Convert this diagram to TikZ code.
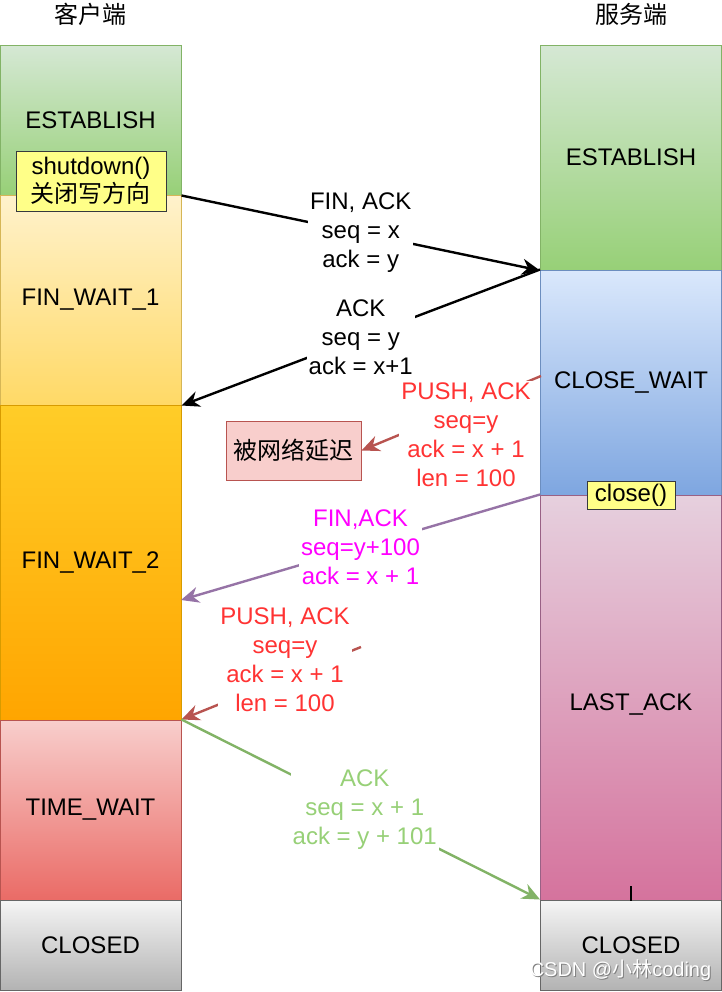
\documentclass[tikz,border=0pt]{standalone}
\usepackage{fontspec}
\setmainfont{Liberation Sans}
\newfontfamily\cjk{Noto Sans CJK SC}
\usetikzlibrary{arrows.meta}
\definecolor{grnT}{HTML}{D5E8D4}\definecolor{grnB}{HTML}{97D077}\definecolor{grnD}{HTML}{82B366}
\definecolor{ylwT}{HTML}{FFF2CC}\definecolor{ylwB}{HTML}{FFD966}\definecolor{ylwD}{HTML}{D6B656}
\definecolor{orgT}{HTML}{FFCD28}\definecolor{orgB}{HTML}{FFA500}\definecolor{orgD}{HTML}{D79B00}
\definecolor{redT}{HTML}{F8CECC}\definecolor{redB}{HTML}{EA6B66}\definecolor{redD}{HTML}{B85450}
\definecolor{gryT}{HTML}{F5F5F5}\definecolor{gryB}{HTML}{B3B3B3}\definecolor{gryD}{HTML}{666666}
\definecolor{bluT}{HTML}{DAE8FC}\definecolor{bluB}{HTML}{7EA6E0}\definecolor{bluD}{HTML}{6C8EBF}
\definecolor{pnkT}{HTML}{E6D0DE}\definecolor{pnkB}{HTML}{D5739D}\definecolor{pnkD}{HTML}{996185}
\definecolor{note}{HTML}{FFFF88}\definecolor{noteD}{HTML}{36393D}
\definecolor{redtxt}{HTML}{FF3333}\definecolor{purD}{HTML}{9673A6}\definecolor{magtxt}{HTML}{FF00FF}
\tikzset{
  state/.style={draw, line width=0.5pt, minimum width=90.5pt, inner sep=0pt},
  msg/.style={line width=1.2pt, -{Stealth[length=9pt,width=8pt]}},
  lbl/.style={fill=white, align=center, inner sep=1pt},
}
\begin{document}
\begin{tikzpicture}[x=0.5pt, y=-0.5pt, font=\fontsize{12}{14.5}\selectfont]
  \useasboundingbox (0,0) rectangle (722,992);
  \node (cli) at (90.5,14) {\cjk 客户端};
  \node (srv) at (631,14) {\cjk 服务端};
  % client side
  \node[state, minimum height=75pt, top color=grnT, bottom color=grnB, draw=grnD] (cEst) at (90.5,120) {ESTABLISH};
  \node[state, minimum height=105pt, top color=ylwT, bottom color=ylwB, draw=ylwD] (cFw1) at (90.5,300) {FIN\_WAIT\_1};
  \node[state, minimum height=157.5pt, top color=orgT, bottom color=orgB, draw=orgD] (cFw2) at (90.5,562.5) {FIN\_WAIT\_2};
  \node[state, minimum height=90pt, top color=redT, bottom color=redB, draw=redD] (cTw) at (90.5,810) {TIME\_WAIT};
  \node[state, minimum height=45pt, top color=gryT, bottom color=gryB, draw=gryD] (cCl) at (90.5,945) {CLOSED};
  \node[draw=noteD, fill=note, line width=0.5pt, minimum width=75pt, minimum height=30pt, inner sep=0pt, align=center,
        font=\fontsize{12}{14}\selectfont] (shut) at (91,181) {shutdown()\\\cjk 关闭写方向};
  % server side
  \node[state, minimum height=112.5pt, top color=grnT, bottom color=grnB, draw=grnD] (sEst) at (631,157.5) {ESTABLISH};
  \node[state, minimum height=112.5pt, top color=bluT, bottom color=bluB, draw=bluD] (sCw) at (631,382.5) {CLOSE\_WAIT};
  \node[state, minimum height=202.5pt, top color=pnkT, bottom color=pnkB, draw=pnkD] (sLa) at (631,697.5) {};
  \node (laTxt) at ([yshift=-3.5pt]sLa.center) {LAST\_ACK};
  \node[state, minimum height=45pt, top color=gryT, bottom color=gryB, draw=gryD] (sCl) at (631,945) {CLOSED};
  \node[draw=noteD, fill=note, line width=0.5pt, minimum width=44pt, minimum height=14pt, inner sep=0pt] (close) at (631,495) {close()};
  \draw[line width=0.6pt] (sLa.south) -- ++(0,-15);
  % lost segment
  \node[draw=redD, fill=redT, line width=0.5pt, minimum width=67.5pt, minimum height=29.5pt, inner sep=0pt] (delay) at (293.5,450.5) {\cjk 被网络延迟};
  \coordinate (pushA) at (541,376);
  \coordinate (pushB) at (361,647);
  \coordinate (finB) at (181,600);
  % messages
  \draw[msg] (cEst.south east) -- node[lbl] (m1) {FIN, ACK\\seq = x\\ack = y} (sEst.south west);
  \draw[msg] (sCw.north west) -- node[lbl] (m2) {ACK\\seq = y\\ack = x+1} (cFw1.south east);
  \draw[msg, redD] (pushA) -- (delay.east);
  \node[lbl, text=redtxt] (m3) at (466,435) {PUSH, ACK\\seq=y\\ack = x + 1\\len = 100};
  \draw[msg, purD] (sLa.north west) -- node[lbl, text=magtxt] (m4) {FIN,ACK\\seq=y+100\\ack = x + 1} (finB);
  \draw[msg, redD] (pushB) -- (cTw.north east);
  \node[lbl, text=redtxt] (m5) at (285,660) {PUSH, ACK\\seq=y\\ack = x + 1\\len = 100};
  \draw[msg, grnD] (cTw.north east) -- node[lbl, text=grnB, xshift=2pt] (m6) {ACK\\seq = x + 1\\ack = y + 101} (sCl.north west);
  % watermark
  \node[text=gray, font=\fontsize{10}{12}\selectfont] (wmS) at (621.5,971) {CSDN @{\cjk 小林}coding};
  \node[text=white, font=\fontsize{10}{12}\selectfont] (wm) at (620.5,970) {CSDN @{\cjk 小林}coding};
\end{tikzpicture}
\end{document}
